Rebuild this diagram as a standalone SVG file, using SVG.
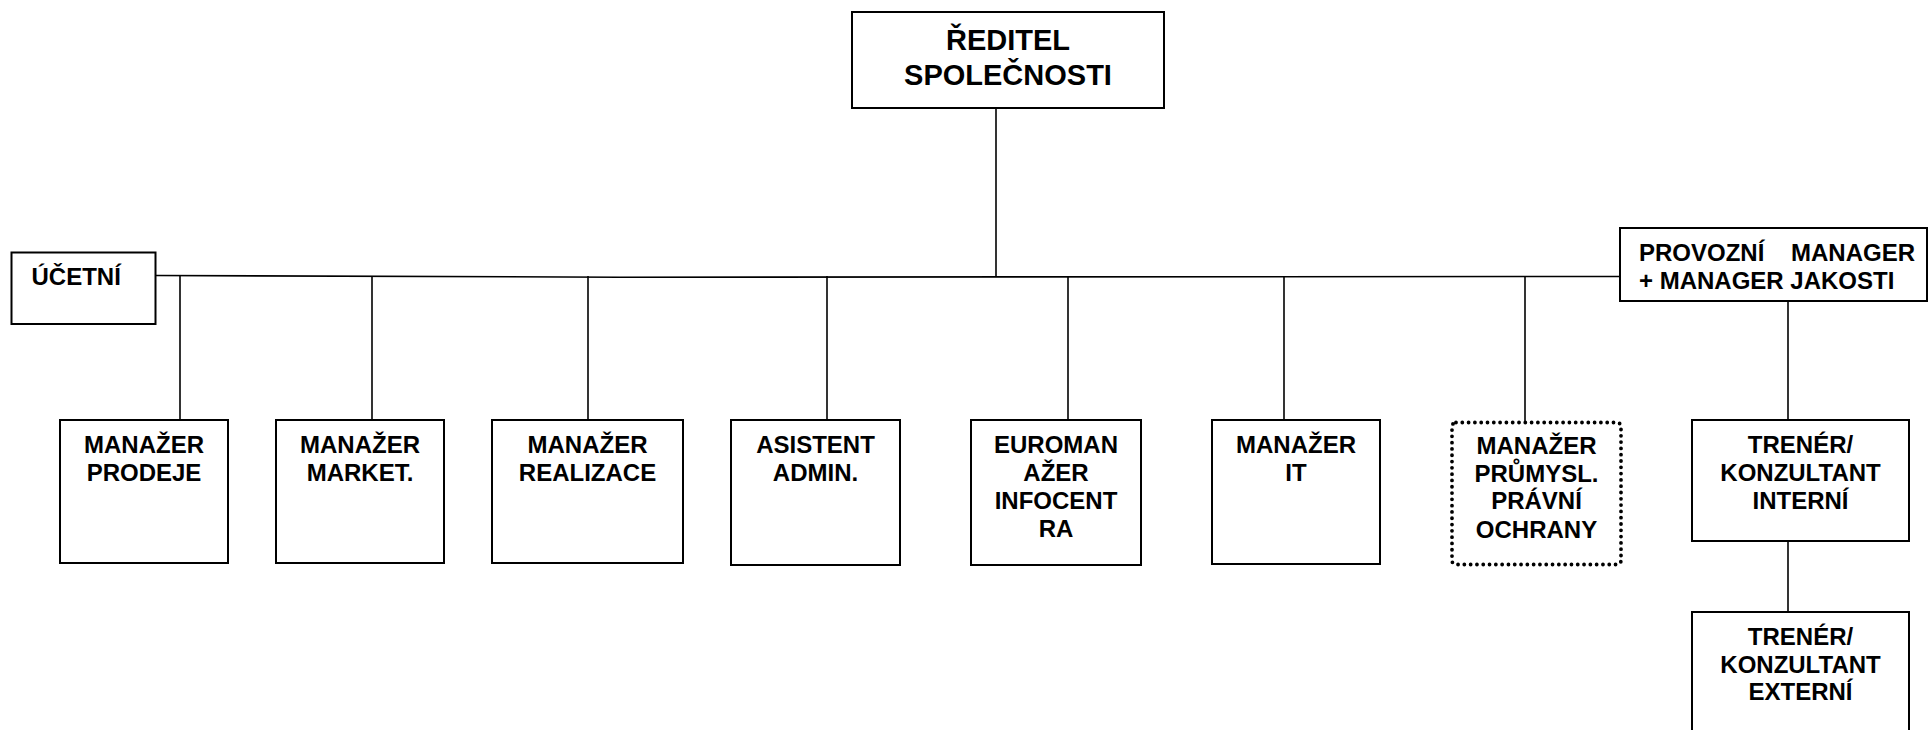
<svg xmlns="http://www.w3.org/2000/svg" width="1928" height="730" viewBox="0 0 1928 730">
<style>
.box{fill:#fff;stroke:#000;stroke-width:2}
.dot{fill:#fff;stroke:#000;stroke-width:3.8;stroke-dasharray:0 6.3;stroke-linecap:round}
.ln{fill:none;stroke:#000;stroke-width:1.6}
text{font-family:"Liberation Sans",Arial,sans-serif;font-weight:bold;font-size:24px;fill:#000;text-anchor:middle}
.big{font-size:29px}
.l{text-anchor:start;white-space:pre}
</style>
<rect width="1928" height="730" fill="#fff"/>
<g id="connectors">
<line class="ln" x1="996" y1="108" x2="996" y2="277"/>
<polyline class="ln" points="156,275.5 620,277.2 1620,276.5"/>
<line class="ln" x1="180" y1="276" x2="180" y2="420"/>
<line class="ln" x1="372" y1="276" x2="372" y2="420"/>
<line class="ln" x1="588" y1="276" x2="588" y2="420"/>
<line class="ln" x1="827" y1="276" x2="827" y2="420"/>
<line class="ln" x1="1068" y1="276" x2="1068" y2="420"/>
<line class="ln" x1="1284" y1="276" x2="1284" y2="420"/>
<line class="ln" x1="1525" y1="276" x2="1525" y2="422"/>
<line class="ln" x1="1788" y1="301" x2="1788" y2="420"/>
<line class="ln" x1="1788" y1="541" x2="1788" y2="612"/>
</g>
<g id="reditel">
<rect class="box" x="852" y="12" width="312" height="96"/>
<text class="big" x="1008" y="50">ŘEDITEL</text>
<text class="big" x="1008" y="85">SPOLEČNOSTI</text>
</g>
<g id="ucetni">
<rect class="box" x="11.5" y="252.5" width="144" height="71.5"/>
<text class="l" x="31.5" y="285">ÚČETNÍ</text>
</g>
<g id="provozni">
<rect class="box" x="1620" y="228" width="307" height="73"/>
<text class="l" x="1639" y="261" xml:space="preserve">PROVOZNÍ    MANAGER</text>
<text class="l" x="1639" y="289">+ MANAGER JAKOSTI</text>
</g>
<g id="prodej">
<rect class="box" x="60" y="420" width="168" height="143"/>
<text x="144" y="453">MANAŽER</text>
<text x="144" y="481">PRODEJE</text>
</g>
<g id="market">
<rect class="box" x="276" y="420" width="168" height="143"/>
<text x="360" y="453">MANAŽER</text>
<text x="360" y="481">MARKET.</text>
</g>
<g id="realizace">
<rect class="box" x="492" y="420" width="191" height="143"/>
<text x="587.5" y="453">MANAŽER</text>
<text x="587.5" y="481">REALIZACE</text>
</g>
<g id="asistent">
<rect class="box" x="731" y="420" width="169" height="145"/>
<text x="815.5" y="453">ASISTENT</text>
<text x="815.5" y="481">ADMIN.</text>
</g>
<g id="euromanazer">
<rect class="box" x="971" y="420" width="170" height="145"/>
<text x="1056" y="453">EUROMAN</text>
<text x="1056" y="481">AŽER</text>
<text x="1056" y="509">INFOCENT</text>
<text x="1056" y="537">RA</text>
</g>
<g id="it">
<rect class="box" x="1212" y="420" width="168" height="144"/>
<text x="1296" y="453">MANAŽER</text>
<text x="1296" y="481">IT</text>
</g>
<g id="prumysl">
<rect class="dot" x="1452" y="422.5" width="169" height="142" rx="4"/>
<text x="1536.5" y="454">MANAŽER</text>
<text x="1536.5" y="481.5">PRŮMYSL.</text>
<text x="1536.5" y="509">PRÁVNÍ</text>
<text x="1536.5" y="537.5">OCHRANY</text>
</g>
<g id="trener-interni">
<rect class="box" x="1692" y="420" width="217" height="121"/>
<text x="1800.5" y="453">TRENÉR/</text>
<text x="1800.5" y="481">KONZULTANT</text>
<text x="1800.5" y="509">INTERNÍ</text>
</g>
<g id="trener-externi">
<rect class="box" x="1692" y="612" width="217" height="130"/>
<text x="1800.5" y="645">TRENÉR/</text>
<text x="1800.5" y="673">KONZULTANT</text>
<text x="1800.5" y="700">EXTERNÍ</text>
</g>
</svg>
